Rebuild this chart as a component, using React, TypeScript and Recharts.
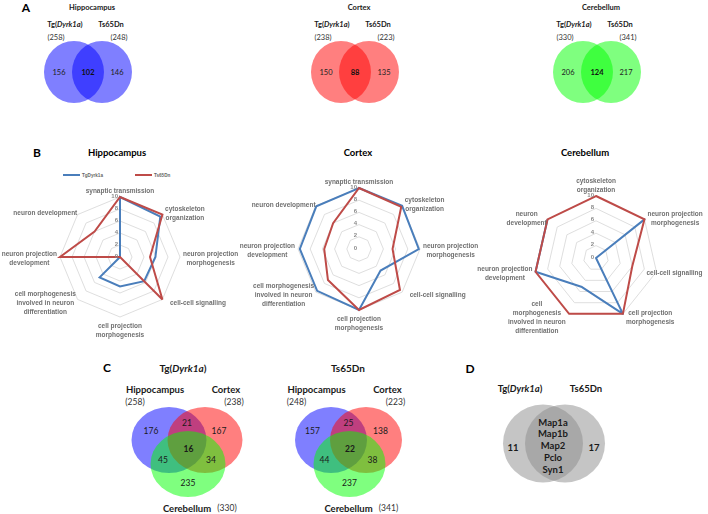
import React from 'react';
import { RadarChart, Radar, PolarGrid, PolarAngleAxis, PolarRadiusAxis } from 'recharts';

// radar categories (line breaks as in the figure)
const terms8 = [
  'synaptic transmission',
  'cytoskeleton\norganization',
  'neuron projection\nmorphogenesis',
  'cell-cell signalling',
  'cell projection\nmorphogenesis',
  'cell morphogenesis\ninvolved in neuron\ndifferentiation',
  'neuron projection\ndevelopment',
  'neuron development',
];
const terms7 = [
  'cytoskeleton\norganization',
  'neuron projection\nmorphogenesis',
  'cell-cell signalling',
  'cell projection\nmorphogenesis',
  'cell\nmorphogenesis\ninvolved in neuron\ndifferentiation',
  'neuron projection\ndevelopment',
  'neuron\ndevelopment',
];
const seriesNames = ['TgDyrk1a', 'Ts65Dn'];
const radiusTicks = [0, 2, 4, 6, 8, 10];

const hippoTg = [10, 9.5, 5.9, 5.7, 4.9, 4.8, 0, 0];
const hippoTs = [10, 10, 5, 10, 0, 0, 10, 6];
const cortexTg = [10, 10, 9.8, 5, 10, 9.7, 9.7, 9.9];
const cortexTs = [10, 9.8, 5.5, 9.5, 10, 7.2, 5.7, 6];
const cereTg = [0, 10, 0, 10, 5.2, 10, 10];
const cereTs = [10, 10, 6, 10, 10, 10, 10];

// Venn panel A
const regionsA = ['Hippocampus', 'Cortex', 'Cerebellum'];
const totalsA = [[258, 248], [238, 223], [330, 341]];
const countsA = [[156, 102, 146], [150, 88, 135], [206, 124, 217]];

// Venn panel C: H only, H&C, C only, all, H&Cb, C&Cb, Cb only
const groupsC = ['Tg(Dyrk1a)', 'Ts65Dn'];
const totalsC = [[258, 238, 330], [248, 223, 341]];
const countsC = [[176, 21, 167, 16, 45, 34, 235], [157, 25, 138, 22, 44, 38, 237]];

// Venn panel D
const sharedGenes = ['Map1a', 'Map1b', 'Map2', 'Pclo', 'Syn1'];
const uniqueD = [11, 17];

const BLUE = '#4a7ebb';
const RED = '#be4b48';
const LABEL_FONT = '"Liberation Sans", Arial, sans-serif';
const FIG_FONT = 'Lato, "Open Sans", sans-serif';

const makeRows = (terms: string[], tg: number[], ts: number[]) =>
  terms.map((t, i) => ({ term: t, tg: tg[i], ts: ts[i] }));

const makeAngleTick = (cx: number, cy: number, r: number) => (props: any) => {
  const { x, y, payload } = props;
  const dx = x - cx;
  const dy = y - cy;
  const len = Math.hypot(dx, dy) || 1;
  const ux = dx / len;
  const uy = dy / len;
  const px = cx + ux * r;
  const py = cy + uy * r;
  const lines = String(payload.value).split('\n');
  const w = Math.max(...lines.map((l) => l.length)) * 3.25;
  const h = lines.length * 9;
  let tx = px;
  let ty = py;
  if (Math.abs(ux) > 0.2) tx += Math.sign(ux) * (w / 2 + 3);
  if (Math.abs(uy) > 0.95) ty += Math.sign(uy) * (h / 2 + 3);
  else ty += uy * 3;
  tx = Math.min(tx, 707 - w / 2);
  return (
    <text textAnchor="middle" dominantBaseline="central" fontSize={6.5} fontWeight="bold" fill="#707070" fontFamily={LABEL_FONT}>
      {lines.map((l, i) => (
        <tspan key={i} x={tx} y={ty + (i - (lines.length - 1) / 2) * 9}>{l}</tspan>
      ))}
    </text>
  );
};

const radiusTick = (props: any) => {
  const { x, y, payload } = props;
  return (
    <text x={x - 2} y={y - 1.5} textAnchor="end" dominantBaseline="central" fontSize={6} fontWeight="bold" fill="#8a8a8a" fontFamily={LABEL_FONT}>
      {payload.value}
    </text>
  );
};

// open polyline (last segment back to the first axis is not drawn in the figure)
const openPath = (props: any) => {
  const pts = props.points || [];
  const d = pts.map((p: any, i: number) => `${i ? 'L' : 'M'}${p.x},${p.y}`).join(' ');
  return <path d={d} fill="none" stroke={BLUE} strokeWidth={2} strokeLinejoin="round" />;
};

function RadarPanel({ data, cx, cy, r, open }: { data: any[]; cx: number; cy: number; r: number; open?: boolean }) {
  return (
    <div style={{ position: 'absolute', left: 0, top: 140, willChange: 'transform' }}>
      <RadarChart width={708} height={230} data={data} cx={cx} cy={cy} outerRadius={r} margin={{ top: 0, right: 0, bottom: 0, left: 0 }}>
        <PolarGrid gridType="polygon" radialLines={false} stroke="#d6d6d6" strokeWidth={0.8} />
        <PolarAngleAxis dataKey="term" tick={makeAngleTick(cx, cy, r)} tickLine={false} axisLine={false} />
        <PolarRadiusAxis angle={90} domain={[0, 10]} ticks={radiusTicks as any} tickCount={6} axisLine={false} tickLine={false} tick={radiusTick} />
        <Radar dataKey="tg" name={seriesNames[0]} stroke={BLUE} strokeWidth={2} fillOpacity={0} isAnimationActive={false} shape={open ? openPath : undefined} />
        <Radar dataKey="ts" name={seriesNames[1]} stroke={RED} strokeWidth={2} fillOpacity={0} isAnimationActive={false} />
      </RadarChart>
    </div>
  );
}

const Tg = ({ x, y, size, anchor = 'middle' }: { x: number; y: number; size: number; anchor?: string }) => (
  <text x={x} y={y} fontSize={size} fontWeight="bold" textAnchor={anchor as any} dominantBaseline="central" fill="#1a1a1a">
    Tg(<tspan fontStyle="italic">Dyrk1a</tspan>)
  </text>
);

const A_MIDS = [88, 355, 597];
const A_COLORS = ['#0000ff', '#ff0000', '#00ff00'];

function PanelA() {
  const cy = 72;
  return (
    <g>
      {A_MIDS.map((m, k) => (
        <g key={k}>
          <text x={m + 4} y={7} fontSize={7.5} fontWeight="bold" textAnchor="middle" dominantBaseline="central" fill="#1a1a1a">{regionsA[k]}</text>
          <Tg x={m - 23} y={24} size={7.5} />
          <text x={m + 23} y={24} fontSize={7.5} fontWeight="bold" textAnchor="middle" dominantBaseline="central" fill="#1a1a1a">{groupsC[1]}</text>
          <text x={m - 32} y={37} fontSize={7.5} textAnchor="middle" dominantBaseline="central" fill="#333">({totalsA[k][0]})</text>
          <text x={m + 31} y={37} fontSize={7.5} textAnchor="middle" dominantBaseline="central" fill="#333">({totalsA[k][1]})</text>
          <ellipse cx={m - 14} cy={cy} rx={30} ry={31} fill={A_COLORS[k]} fillOpacity={0.5} />
          <ellipse cx={m + 14} cy={cy} rx={30} ry={31} fill={A_COLORS[k]} fillOpacity={0.5} />
          <text x={m - 29} y={cy} fontSize={7.5} textAnchor="middle" dominantBaseline="central" fill="#222">{countsA[k][0]}</text>
          <text x={m} y={cy} fontSize={7.5} fontWeight="bold" textAnchor="middle" dominantBaseline="central" fill="#111">{countsA[k][1]}</text>
          <text x={m + 29} y={cy} fontSize={7.5} textAnchor="middle" dominantBaseline="central" fill="#222">{countsA[k][2]}</text>
        </g>
      ))}
    </g>
  );
}

const C_LAYOUT = [
  { mid: 187, title: 183 },
  { mid: 348.5, title: 348 },
];

function PanelC() {
  return (
    <g>
      {C_LAYOUT.map((L, k) => {
        const m = L.mid;
        const sep = k === 0 ? 18 : 17.5;
        const rx = k === 0 ? 37.5 : 36;
        const n = countsC[k];
        const num = (v: number, x: number, y: number, bold = false) => (
          <text x={x} y={y} fontSize={8.5} fontWeight={bold ? 'bold' : 'normal'} textAnchor="middle" dominantBaseline="central" fill="#1a1a1a">{v}</text>
        );
        return (
          <g key={k}>
            {k === 0 ? (
              <Tg x={L.title} y={368} size={10} />
            ) : (
              <text x={L.title} y={368} fontSize={10} fontWeight="bold" textAnchor="middle" dominantBaseline="central" fill="#1a1a1a">{groupsC[1]}</text>
            )}
            <ellipse cx={m - sep} cy={440} rx={rx} ry={33} fill="#0000ff" fillOpacity={0.5} />
            <ellipse cx={m + sep} cy={440} rx={rx} ry={33} fill="#ff0000" fillOpacity={0.5} />
            <ellipse cx={m + 1} cy={464} rx={rx} ry={33} fill="#00ff00" fillOpacity={0.5} />
            <text x={m - 32} y={389} fontSize={9.5} fontWeight="bold" textAnchor="middle" dominantBaseline="central" fill="#1a1a1a">{regionsA[0]}</text>
            <text x={m - 52} y={402} fontSize={8.5} textAnchor="middle" dominantBaseline="central" fill="#333">({totalsC[k][0]})</text>
            <text x={m + 39} y={389} fontSize={9.5} fontWeight="bold" textAnchor="middle" dominantBaseline="central" fill="#1a1a1a">{regionsA[1]}</text>
            <text x={m + 47} y={402} fontSize={8.5} textAnchor="middle" dominantBaseline="central" fill="#333">({totalsC[k][1]})</text>
            <text x={m} y={508} fontSize={9.5} fontWeight="bold" textAnchor="middle" dominantBaseline="central" fill="#1a1a1a">{regionsA[2]}</text>
            <text x={m + 40} y={508} fontSize={8.5} textAnchor="middle" dominantBaseline="central" fill="#333">({totalsC[k][2]})</text>
            {num(n[0], m - 36, 431)}
            {num(n[1], m, 422.5)}
            {num(n[2], m + 32, 431)}
            {num(n[3], m + 1.5, 448.5, true)}
            {num(n[4], m - 24, 460)}
            {num(n[5], m + 24, 460)}
            {num(n[6], m + 1, 482.5)}
          </g>
        );
      })}
    </g>
  );
}

function PanelD() {
  return (
    <g>
      <Tg x={520} y={388} size={9.5} />
      <text x={586} y={388} fontSize={9.5} fontWeight="bold" textAnchor="middle" dominantBaseline="central" fill="#1a1a1a">{groupsC[1]}</text>
      <ellipse cx={543} cy={443.5} rx={40} ry={39} fill="#8c8c8c" fillOpacity={0.5} />
      <ellipse cx={565} cy={443.5} rx={40} ry={39} fill="#8c8c8c" fillOpacity={0.5} />
      {sharedGenes.map((g, i) => (
        <text key={g} x={553} y={422 + i * 11.8} fontSize={9.5} fontWeight="bold" textAnchor="middle" dominantBaseline="central" fill="#1a1a1a">{g}</text>
      ))}
      <text x={513} y={447} fontSize={9.5} fontWeight="bold" textAnchor="middle" dominantBaseline="central" fill="#1a1a1a">{uniqueD[0]}</text>
      <text x={594} y={447} fontSize={9.5} fontWeight="bold" textAnchor="middle" dominantBaseline="central" fill="#1a1a1a">{uniqueD[1]}</text>
    </g>
  );
}

export default function App() {
  return (
    <div style={{ position: 'absolute', left: 0, top: 0, width: 708, height: 514, background: '#fff', overflow: 'hidden' }}>
      <svg width={708} height={514} style={{ position: 'absolute', left: 0, top: 0 }} fontFamily={FIG_FONT}>
        {/* panel letters */}
        <text x={26} y={7} fontSize={12} fontWeight="bold" textAnchor="middle" dominantBaseline="central">A</text>
        <text x={37} y={152} fontSize={12} fontWeight="bold" textAnchor="middle" dominantBaseline="central">B</text>
        <text x={107} y={367} fontSize={12} fontWeight="bold" textAnchor="middle" dominantBaseline="central">C</text>
        <text x={470} y={368} fontSize={12} fontWeight="bold" textAnchor="middle" dominantBaseline="central">D</text>

        <PanelA />

        {/* radar titles */}
        <text x={117} y={152} fontSize={9.5} fontWeight="bold" textAnchor="middle" dominantBaseline="central">{regionsA[0]}</text>
        <text x={358} y={152} fontSize={9.5} fontWeight="bold" textAnchor="middle" dominantBaseline="central">{regionsA[1]}</text>
        <text x={585} y={152} fontSize={9.5} fontWeight="bold" textAnchor="middle" dominantBaseline="central">{regionsA[2]}</text>

        {/* legend of hippocampus radar */}
        <g fontFamily={LABEL_FONT} fontSize={4.6} fontWeight="bold" fill="#666">
          <line x1={63} x2={80} y1={175} y2={175} stroke={BLUE} strokeWidth={2} />
          <text x={82} y={175} dominantBaseline="central">{seriesNames[0]}</text>
          <line x1={135} x2={152} y1={175} y2={175} stroke={RED} strokeWidth={2} />
          <text x={154} y={175} dominantBaseline="central">{seriesNames[1]}</text>
        </g>

        <PanelC />
        <PanelD />
      </svg>

      <RadarPanel data={makeRows(terms8, hippoTg, hippoTs)} cx={120} cy={117} r={60} />
      <RadarPanel data={makeRows(terms8, cortexTg, cortexTs)} cx={359} cy={109} r={61} />
      <RadarPanel data={makeRows(terms7, cereTg, cereTs)} cx={596} cy={118} r={62} open />
    </div>
  );
}
